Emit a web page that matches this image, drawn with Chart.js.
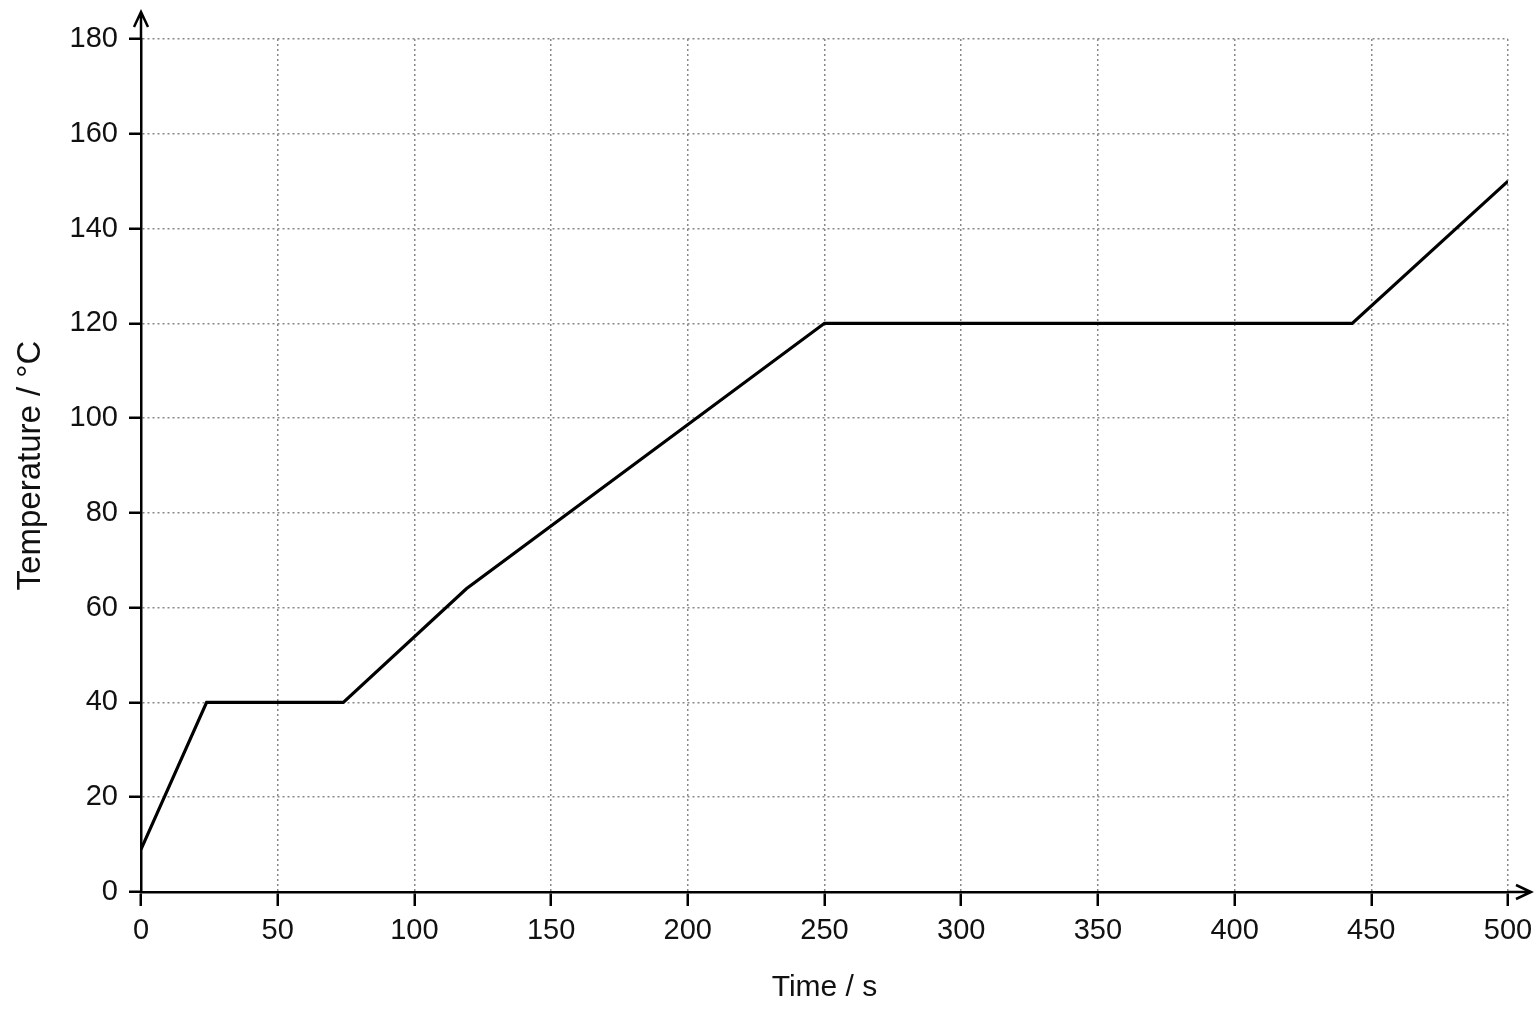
<!DOCTYPE html>
<html>
<head>
<meta charset="utf-8">
<script src="https://cdn.jsdelivr.net/npm/chart.js@4.4.0/dist/chart.umd.min.js"></script>
<style>
    html, body { margin: 0; padding: 0; background: #fff; }
    #wrap { width: 1536px; height: 1024px; }
</style>
</head>
<body>
<div id="wrap"><canvas id="heatingCurve" width="1536" height="1024"></canvas></div>
<script>
// heating curve
const timeValues = [0, 24, 74, 119, 250, 443, 500];
const tempValues = [9, 40, 40, 64, 120, 120, 150];
const xTickValues = [0, 50, 100, 150, 200, 250, 300, 350, 400, 450, 500];
const yTickValues = [0, 20, 40, 60, 80, 100, 120, 140, 160, 180];

const FONT = "'Liberation Sans', Arial, sans-serif";

// arrow heads on both axes
const axisArrows = {
    id: 'axisArrows',
    afterDraw(chart) {
        const { ctx, chartArea: a } = chart;
        ctx.save();
        ctx.strokeStyle = '#000';
        ctx.lineWidth = 2.5;
        ctx.beginPath();
        ctx.moveTo(a.left, a.top);
        ctx.lineTo(a.left, a.top - 27);
        ctx.moveTo(a.left - 7, a.top - 12);
        ctx.lineTo(a.left, a.top - 27);
        ctx.lineTo(a.left + 7, a.top - 12);
        ctx.moveTo(a.right, a.bottom);
        ctx.lineTo(a.right + 23, a.bottom);
        ctx.moveTo(a.right + 8, a.bottom - 7);
        ctx.lineTo(a.right + 23, a.bottom);
        ctx.lineTo(a.right + 8, a.bottom + 7);
        ctx.stroke();
        ctx.restore();
    }
};

window.addEventListener('DOMContentLoaded', () => {
    const ctx = document.getElementById('heatingCurve').getContext('2d');
    new Chart(ctx, {
        type: 'line',
        data: {
            datasets: [{
                data: timeValues.map((t, i) => ({ x: t, y: tempValues[i] })),
                borderColor: '#000',
                borderWidth: 3.2,
                pointRadius: 0,
                tension: 0,
                fill: false
            }]
        },
        options: {
            responsive: false,
            animation: false,
            layout: { padding: { left: 0, top: 39, right: 28, bottom: 0 } },
            plugins: { legend: { display: false }, tooltip: { enabled: false } },
            scales: {
                x: {
                    type: 'linear',
                    min: 0,
                    max: 500,
                    afterBuildTicks: s => { s.ticks = xTickValues.map(v => ({ value: v })); },
                    afterFit: s => { s.height = 132; s.paddingLeft = 0; s.paddingRight = 0; },
                    grid: { color: '#888', lineWidth: 1.5, tickLength: 14, tickColor: '#000', tickWidth: 2.5 },
                    border: { color: '#000', width: 2.5, dash: [2, 3] },
                    ticks: { color: '#111', padding: 8, maxRotation: 0, font: { family: FONT, size: 29 } },
                    title: { display: true, text: 'Time / s', color: '#111', padding: { top: 0, bottom: 18 }, font: { family: FONT, size: 30 } }
                },
                y: {
                    min: 0,
                    max: 180,
                    afterBuildTicks: s => { s.ticks = yTickValues.map(v => ({ value: v })); },
                    afterFit: s => { s.width = 141; },
                    grid: { color: '#888', lineWidth: 1.5, tickLength: 12, tickColor: '#000', tickWidth: 2.5 },
                    border: { color: '#000', width: 2.5, dash: [2, 3] },
                    ticks: { color: '#111', padding: 11, font: { family: FONT, size: 29 } },
                    title: { display: true, text: 'Temperature / °C', color: '#111', padding: { top: 11, bottom: 0 }, font: { family: FONT, size: 33 } }
                }
            }
        },
        plugins: [axisArrows]
    });
});
</script>
</body>
</html>
